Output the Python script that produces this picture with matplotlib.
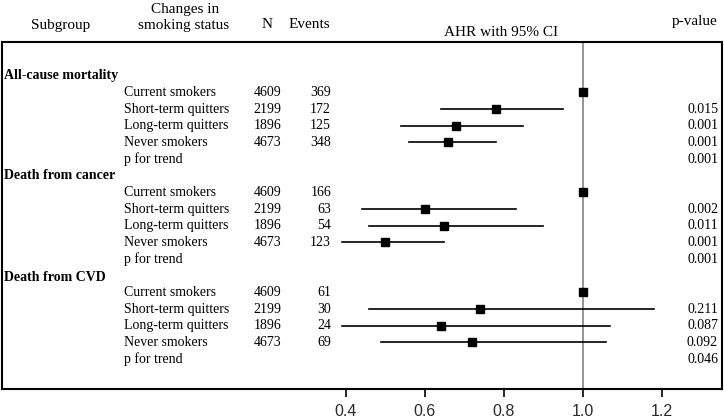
import matplotlib
matplotlib.use("Agg")
import matplotlib.pyplot as plt

# ---------------- data ----------------
outcomes = ["All-cause mortality", "Death from cancer", "Death from CVD"]
statuses = ["Current smokers", "Short-term quitters", "Long-term quitters", "Never smokers"]
n_values = [4609, 2199, 1896, 4673]

events_all = [369, 172, 125, 348]
events_cancer = [166, 63, 54, 123]
events_cvd = [61, 30, 24, 69]

ahr_all = [1.00, 0.78, 0.68, 0.66]
lo_all = [None, 0.64, 0.54, 0.56]
hi_all = [None, 0.95, 0.85, 0.78]

ahr_cancer = [1.00, 0.60, 0.65, 0.50]
lo_cancer = [None, 0.44, 0.46, 0.39]
hi_cancer = [None, 0.83, 0.90, 0.65]

ahr_cvd = [1.00, 0.74, 0.64, 0.72]
lo_cvd = [None, 0.46, 0.39, 0.49]
hi_cvd = [None, 1.18, 1.07, 1.06]

p_all = ["", "0.015", "0.001", "0.001"]
p_cancer = ["", "0.002", "0.011", "0.001"]
p_cvd = ["", "0.211", "0.087", "0.092"]
trend_p = ["0.001", "0.001", "0.046"]

xticks = [0.4, 0.6, 0.8, 1.0, 1.2]

events = [events_all, events_cancer, events_cvd]
ahrs = [ahr_all, ahr_cancer, ahr_cvd]
los = [lo_all, lo_cancer, lo_cvd]
his = [hi_all, hi_cancer, hi_cvd]
pvals = [p_all, p_cancer, p_cvd]

# ---------------- layout ----------------
W, H = 724, 420
fig = plt.figure(figsize=(W / 100, H / 100), dpi=100)
SERIF = ["Liberation Serif", "DejaVu Serif"]

ax_l, ax_r, ax_t, ax_b = 1.5, 722.0, 42.0, 389.0
ax = fig.add_axes([ax_l / W, 1 - ax_b / H, (ax_r - ax_l) / W, (ax_b - ax_t) / H])

# x scale: 0.4 at pixel 345.7, 395 px per unit
x0_px, ppu = 345.7, 395.0
ax.set_xlim(0.4 - (x0_px - ax_l) / ppu, 0.4 + (ax_r - x0_px) / ppu)
row0_px, row_h = 75.7, 16.67
ax.set_ylim((ax_b - row0_px) / row_h, (ax_t - row0_px) / row_h)


def fx(px):
    return (px - ax_l) / (ax_r - ax_l)


tr = ax.get_yaxis_transform()  # x in axes fraction, y in data
fs = 10

ax.axvline(1.0, color="#8c8c8c", lw=1.3, zorder=1)

row = 0
for k, outcome in enumerate(outcomes):
    ax.text(fx(4), row + (0.1 if k == 2 else 0), outcome, transform=tr, ha="left", va="center",
            fontsize=fs, fontweight="bold", family=SERIF)
    row += 1
    for i, st in enumerate(statuses):
        ax.text(fx(124), row, st, transform=tr, ha="left", va="center", fontsize=fs, family=SERIF)
        ax.text(fx(281), row, str(n_values[i]), transform=tr, ha="right", va="center",
                fontsize=fs, family=SERIF)
        ax.text(fx(331), row, str(events[k][i]), transform=tr, ha="right", va="center",
                fontsize=fs, family=SERIF)
        if los[k][i] is not None:
            ax.plot([los[k][i], his[k][i]], [row, row], color="black", lw=1.2, zorder=2)
        ax.plot([ahrs[k][i]], [row], marker="s", color="black", markersize=5.3, zorder=3)
        if pvals[k][i]:
            ax.text(fx(718), row, pvals[k][i], transform=tr, ha="right", va="center",
                    fontsize=fs, family=SERIF)
        row += 1
    ax.text(fx(124), row, "p for trend", transform=tr, ha="left", va="center", fontsize=fs, family=SERIF)
    ax.text(fx(718), row, trend_p[k], transform=tr, ha="right", va="center", fontsize=fs, family=SERIF)
    row += 1

ax.set_xticks(xticks)
ax.set_xticklabels([f"{t:.1f}" for t in xticks], family=["Liberation Sans", "DejaVu Sans"],
                   fontsize=11.5, color="#2a2a2a")
ax.tick_params(axis="x", length=6, width=1.2, pad=5, color="black")
ax.set_yticks([])
for s in ax.spines.values():
    s.set_linewidth(1.5)
    s.set_color("black")

# ---------------- header ----------------
def ftext(px, py, s, **kw):
    fig.text(px / W, 1 - py / H, s, ha="center", va="center", fontsize=11, family=SERIF, **kw)


ftext(60.3, 25, "Subgroup")
ftext(185.5, 9, "Changes in")
ftext(184, 25, "smoking status")
ftext(266.7, 25, "N")
ftext(309.7, 25, "Events")
ftext(501, 32, "AHR with 95% CI")
ftext(695, 22, "p-value")

fig.savefig("out.png", dpi=100)
